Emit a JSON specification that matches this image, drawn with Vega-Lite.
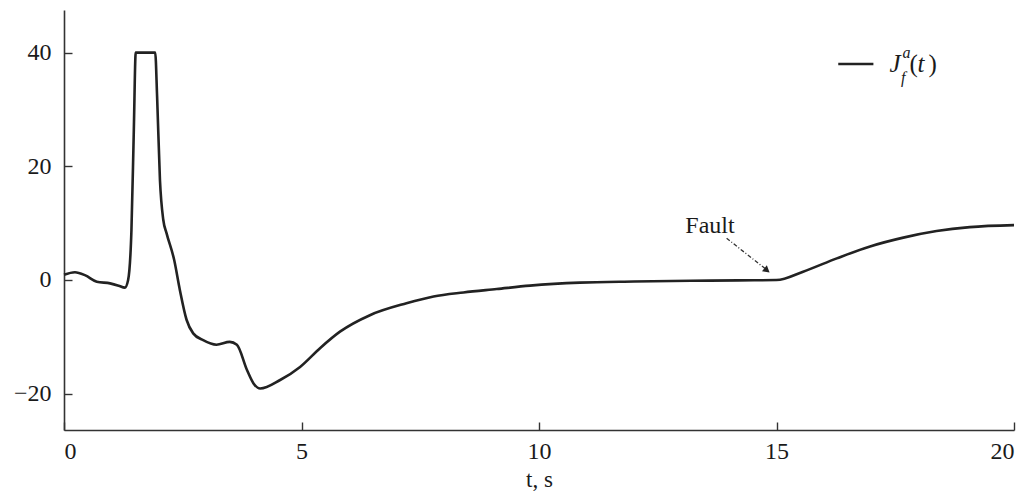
{
  "$schema": "https://vega.github.io/schema/vega-lite/v6.json",
  "width": 950,
  "height": 420,
  "autosize": {"type": "none"},
  "padding": {"left": 64, "top": 10, "right": 15, "bottom": 63},
  "background": "white",
  "config": {
    "view": {"stroke": null},
    "font": "Liberation Serif",
    "axis": {
      "domainColor": "#333333",
      "domainWidth": 1.6,
      "tickColor": "#333333",
      "tickWidth": 1.4,
      "tickSize": -8,
      "grid": false,
      "labelFont": "Liberation Serif",
      "labelFontSize": 24,
      "labelColor": "#1a1a1a",
      "titleFont": "Liberation Serif",
      "titleFontSize": 23,
      "titleFontWeight": "normal",
      "titleColor": "#1a1a1a"
    }
  },
  "datasets": {
    "series": [
      {"t": 0, "J": 0.9}, {"t": 0.23, "J": 1.35}, {"t": 0.45, "J": 0.8}, {"t": 0.69, "J": -0.3},
      {"t": 0.97, "J": -0.6}, {"t": 1.15, "J": -1.0}, {"t": 1.28, "J": -1.35}, {"t": 1.35, "J": 0},
      {"t": 1.42, "J": 8.8}, {"t": 1.47, "J": 26.4}, {"t": 1.51, "J": 40}, {"t": 1.92, "J": 40},
      {"t": 1.96, "J": 32.3}, {"t": 2.02, "J": 17.6}, {"t": 2.09, "J": 10.6}, {"t": 2.16, "J": 8.2},
      {"t": 2.32, "J": 3.5}, {"t": 2.44, "J": -1.8}, {"t": 2.58, "J": -7.0}, {"t": 2.72, "J": -9.4},
      {"t": 2.93, "J": -10.6}, {"t": 3.21, "J": -11.4}, {"t": 3.49, "J": -10.9}, {"t": 3.64, "J": -11.4},
      {"t": 3.85, "J": -15.8}, {"t": 3.99, "J": -18.2}, {"t": 4.13, "J": -19.1}, {"t": 4.55, "J": -17.6},
      {"t": 4.97, "J": -15.3}, {"t": 5.39, "J": -12.0}, {"t": 5.81, "J": -9.1}, {"t": 6.44, "J": -6.2},
      {"t": 7.21, "J": -4.1}, {"t": 7.78, "J": -2.9}, {"t": 8.41, "J": -2.2}, {"t": 9.11, "J": -1.6},
      {"t": 9.81, "J": -1.0}, {"t": 10.86, "J": -0.47}, {"t": 12.0, "J": -0.28}, {"t": 13.2, "J": -0.15},
      {"t": 14.2, "J": -0.08}, {"t": 15.0, "J": -0.02}, {"t": 15.56, "J": 1.46}, {"t": 16.27, "J": 3.8},
      {"t": 16.97, "J": 5.9}, {"t": 17.67, "J": 7.45}, {"t": 18.37, "J": 8.6}, {"t": 19.07, "J": 9.3},
      {"t": 20, "J": 9.65}
    ]
  },
  "layer": [
    {
      "data": {"name": "series"},
      "mark": {"type": "line", "color": "#222222", "strokeWidth": 2.6, "interpolate": "monotone"},
      "encoding": {
        "x": {"field": "t", "type": "quantitative", "scale": {"domain": [0, 20], "nice": false, "zero": false},
              "axis": {"values": [0, 5, 10, 15, 20], "title": "t, s", "labelPadding": 17, "titlePadding": 5}},
        "y": {"field": "J", "type": "quantitative", "scale": {"domain": [-26.4, 47.5], "nice": false, "zero": false},
              "axis": {"values": [-20, 0, 20, 40], "title": null, "labelPadding": 21}}
      }
    },
    {
      "data": {"values": [{"t1": 16.3, "t2": 17.04, "v": 38.0}]},
      "mark": {"type": "rule", "color": "#222222", "strokeWidth": 2.4},
      "encoding": {
        "x": {"field": "t1", "type": "quantitative"},
        "x2": {"field": "t2"},
        "y": {"field": "v", "type": "quantitative"}
      }
    },
    {
      "data": {"values": [{"t": 17.38, "v": 38.0, "s": "J"}]},
      "mark": {"type": "text", "font": "Liberation Serif", "fontStyle": "italic", "fontSize": 25, "align": "left", "baseline": "middle", "color": "#1a1a1a"},
      "encoding": {"x": {"field": "t", "type": "quantitative"}, "y": {"field": "v", "type": "quantitative"}, "text": {"field": "s"}}
    },
    {
      "data": {"values": [{"t": 17.97, "v": 38.0, "s": "t"}]},
      "mark": {"type": "text", "font": "Liberation Serif", "fontStyle": "italic", "fontSize": 25, "align": "left", "baseline": "middle", "color": "#1a1a1a"},
      "encoding": {"x": {"field": "t", "type": "quantitative"}, "y": {"field": "v", "type": "quantitative"}, "text": {"field": "s"}}
    },
    {
      "data": {"values": [{"t": 17.8, "v": 38.0, "s": "("}, {"t": 18.2, "v": 38.0, "s": ")"}]},
      "mark": {"type": "text", "font": "Liberation Serif", "fontSize": 25, "align": "left", "baseline": "middle", "color": "#1a1a1a"},
      "encoding": {"x": {"field": "t", "type": "quantitative"}, "y": {"field": "v", "type": "quantitative"}, "text": {"field": "s"}}
    },
    {
      "data": {"values": [{"t": 17.65, "v": 39.9, "s": "a"}, {"t": 17.62, "v": 35.5, "s": "f"}]},
      "mark": {"type": "text", "font": "Liberation Serif", "fontStyle": "italic", "fontSize": 16, "align": "left", "baseline": "middle", "color": "#1a1a1a"},
      "encoding": {"x": {"field": "t", "type": "quantitative"}, "y": {"field": "v", "type": "quantitative"}, "text": {"field": "s"}}
    },
    {
      "data": {"values": [{"t": 13.6, "v": 9.5, "s": "Fault"}]},
      "mark": {"type": "text", "font": "Liberation Serif", "fontSize": 24, "align": "center", "baseline": "middle", "color": "#1a1a1a"},
      "encoding": {"x": {"field": "t", "type": "quantitative"}, "y": {"field": "v", "type": "quantitative"}, "text": {"field": "s"}}
    },
    {
      "data": {"values": [{"t1": 13.95, "v1": 7.34, "t2": 14.76, "v2": 2.0}]},
      "mark": {"type": "rule", "color": "#333333", "strokeWidth": 1.3, "strokeDash": [4, 2, 1, 2]},
      "encoding": {
        "x": {"field": "t1", "type": "quantitative"},
        "x2": {"field": "t2"},
        "y": {"field": "v1", "type": "quantitative"},
        "y2": {"field": "v2"}
      }
    },
    {
      "data": {"values": [{"t": 14.8, "v": 1.7}]},
      "mark": {"type": "point", "shape": "triangle-up", "filled": true, "color": "#222222", "size": 60, "angle": 129, "opacity": 1},
      "encoding": {"x": {"field": "t", "type": "quantitative"}, "y": {"field": "v", "type": "quantitative"}}
    }
  ]
}
